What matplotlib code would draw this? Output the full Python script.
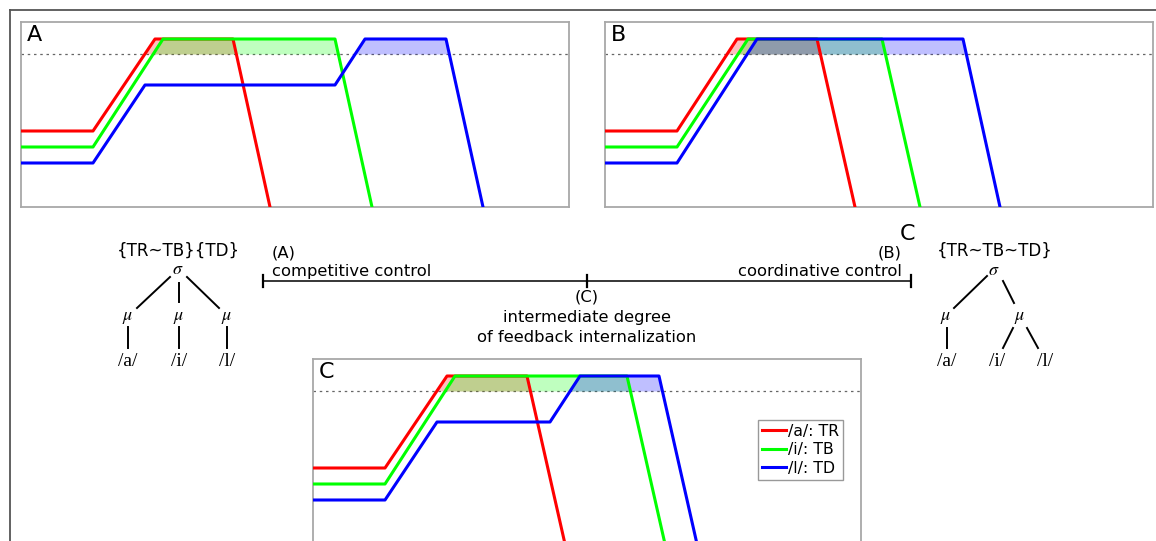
import matplotlib.pyplot as plt

plt.rcParams['font.family'] = ['DejaVu Sans']
plt.rcParams['mathtext.fontset'] = 'stix'

# gestural activation time courses (time, activation)
# panel A: competitive control
a_time_tr = [0, 72, 134, 212, 249]
a_level_tr = [76, 76, 168, 168, 0]
a_time_tb = [0, 72, 142, 314, 351]
a_level_tb = [60, 60, 168, 168, 0]
a_time_td = [0, 72, 124, 314, 344, 425, 462]
a_level_td = [44, 44, 122, 122, 168, 168, 0]

# panel B: coordinative control
b_time_tr = [0, 72, 132, 212, 250]
b_level_tr = [76, 76, 168, 168, 0]
b_time_tb = [0, 72, 143, 277, 315]
b_level_tb = [60, 60, 168, 168, 0]
b_time_td = [0, 72, 152, 358, 395]
b_level_td = [44, 44, 168, 168, 0]

# panel C: intermediate
c_time_tr = [0, 72, 134, 214, 252]
c_level_tr = [76, 76, 168, 168, 0]
c_time_tb = [0, 72, 142, 314, 352]
c_level_tb = [60, 60, 168, 168, 0]
c_time_td = [0, 72, 124, 237, 267, 346, 384]
c_level_td = [44, 44, 122, 122, 168, 168, 0]

threshold = 153
series_labels = ['/a/: TR', '/i/: TB', '/l/: TD']
series_colors = ['#ff0000', '#00ff00', '#0000ff']

W, H = 1156, 541
fig = plt.figure(figsize=(W / 100, H / 100), dpi=100)

# overlay in pixel units for the frame, scale and trees
ov = fig.add_axes([0, 0, 1, 1])
ov.set_xlim(0, W)
ov.set_ylim(H, 0)
ov.axis('off')
ov.plot([10, W], [10, 10], color='#555555', lw=1.3)
ov.plot([10, 10], [10, H], color='#555555', lw=1.3)


def panel(left, top, label, times, levels):
    ax = fig.add_axes([left / W, 1 - (top + 185) / H, 548 / W, 185 / H])
    ax.set_xlim(0, 548)
    ax.set_ylim(0, 185)
    ax.set_xticks([])
    ax.set_yticks([])
    for s in ax.spines.values():
        s.set_color('#a8a8a8')
        s.set_linewidth(1.3)
    ax.axhline(threshold, color='#666666', lw=0.9, ls=(0, (2, 3)), zorder=1)
    for t, v, c, lab in zip(times, levels, series_colors, series_labels):
        ax.fill_between(t, v, threshold, where=[y >= threshold for y in v],
                        interpolate=True, color=c, alpha=0.25, lw=0, zorder=2)
        ax.plot(t, v, color=c, lw=2.2, solid_joinstyle='round', label=lab, zorder=3)
    ax.text(0.011, 0.897, label, transform=ax.transAxes, fontsize=16, va='baseline')
    return ax


panel(21, 22, 'A', [a_time_tr, a_time_tb, a_time_td], [a_level_tr, a_level_tb, a_level_td])
panel(605, 22, 'B', [b_time_tr, b_time_tb, b_time_td], [b_level_tr, b_level_tb, b_level_td])
axc = panel(313, 359, 'C', [c_time_tr, c_time_tb, c_time_td], [c_level_tr, c_level_tb, c_level_td])
leg = axc.legend(loc='upper right', bbox_to_anchor=(0.967, 0.67), fontsize=11.3,
                 handlelength=1.55, handletextpad=0.1, borderpad=0.25, labelspacing=0.22,
                 borderaxespad=0, fancybox=False, framealpha=1)
leg.get_frame().set_edgecolor('#999999')

# scale of feedback internalization
ov.plot([263, 911], [281, 281], color='k', lw=1.1)
for xt in [263, 587, 911]:
    ov.plot([xt, xt], [275, 287], color='k', lw=1.6)
fs = 11.8
ov.text(272, 257, '(A)', fontsize=fs, va='baseline', ha='left')
ov.text(272, 276, 'competitive control', fontsize=fs, va='baseline', ha='left')
ov.text(902, 257, '(B)', fontsize=fs, va='baseline', ha='right')
ov.text(902, 276, 'coordinative control', fontsize=fs, va='baseline', ha='right')
ov.text(900, 240, 'C', fontsize=16, va='baseline', ha='left')
ov.text(587, 302, '(C)', fontsize=fs, va='baseline', ha='center')
ov.text(587, 322, 'intermediate degree', fontsize=fs, va='baseline', ha='center')
ov.text(587, 342, 'of feedback internalization', fontsize=fs, va='baseline', ha='center')

# syllable trees
serif = 'Liberation Serif'
gs = 13
ov.text(178, 256, '{TR~TB}{TD}', fontsize=12, va='baseline', ha='center')
ov.text(178, 269, r'$\sigma$', fontsize=gs, va='center', ha='center')
ov.plot([170, 137], [277, 308], color='k', lw=1.4)
ov.plot([179, 179], [283, 302], color='k', lw=1.4)
ov.plot([187, 219], [277, 308], color='k', lw=1.4)
for xm, lab in zip([128, 179, 227], ['/a/', '/i/', '/l/']):
    ov.text(xm, 317, r'$\mu$', fontsize=gs, va='center', ha='center')
    ov.plot([xm, xm], [327, 348], color='k', lw=1.4)
    ov.text(xm, 362, lab, fontsize=14, va='center', ha='center', family=serif)

ov.text(995, 256, '{TR~TB~TD}', fontsize=12, va='baseline', ha='center')
ov.text(994, 270, r'$\sigma$', fontsize=gs, va='center', ha='center')
ov.plot([987, 954], [276, 308], color='k', lw=1.4)
ov.plot([1003, 1014], [281, 303], color='k', lw=1.4)
ov.text(946, 317, r'$\mu$', fontsize=gs, va='center', ha='center')
ov.text(1020, 317, r'$\mu$', fontsize=gs, va='center', ha='center')
ov.plot([947, 947], [328, 348], color='k', lw=1.4)
ov.plot([1013, 1003], [328, 348], color='k', lw=1.4)
ov.plot([1027, 1038], [328, 348], color='k', lw=1.4)
for xl, lab in zip([947, 997, 1045], ['/a/', '/i/', '/l/']):
    ov.text(xl, 362, lab, fontsize=14, va='center', ha='center', family=serif)

fig.savefig('out.png', dpi=100)
